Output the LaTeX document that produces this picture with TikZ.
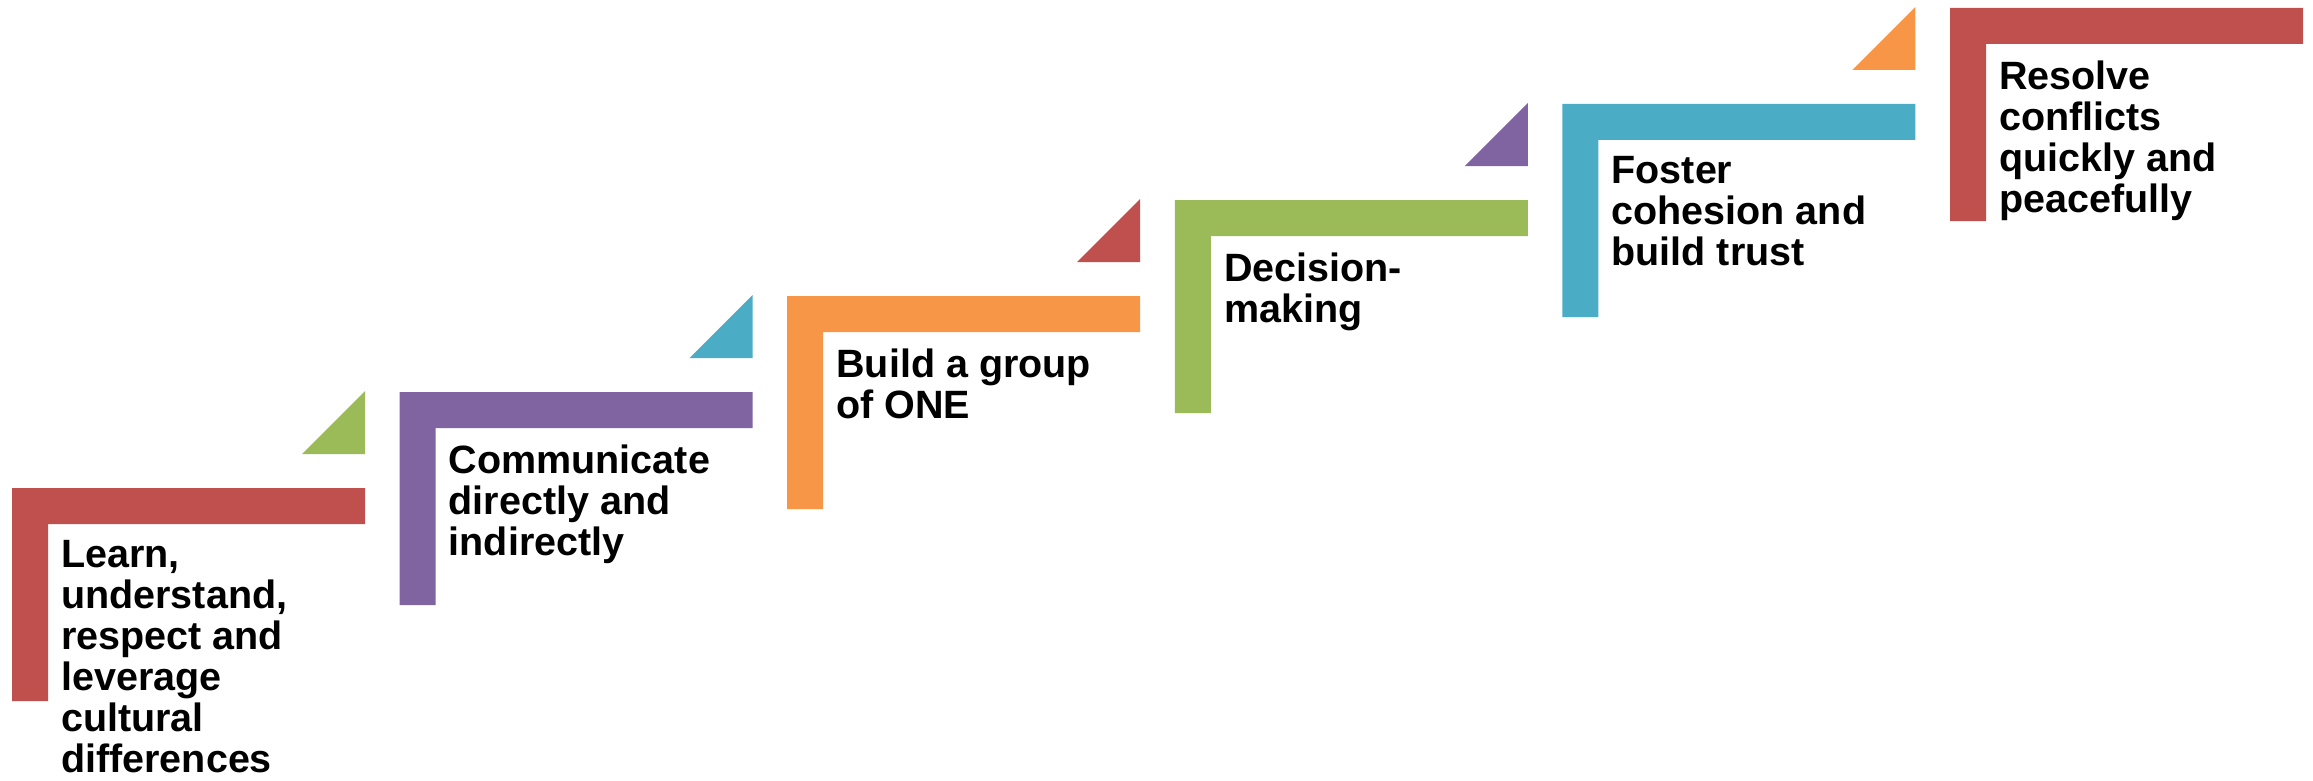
\documentclass[tikz,border=0pt]{standalone}
\usepackage{fontspec}
\setmainfont{Liberation Sans}
\definecolor{stepred}{HTML}{C0504D}
\definecolor{steppurple}{HTML}{8064A2}
\definecolor{steporange}{HTML}{F79646}
\definecolor{stepgreen}{HTML}{9BBB59}
\definecolor{stepblue}{HTML}{4BACC6}

\begin{document}
\begin{tikzpicture}[x=1pt,y=-1pt,
                    step text/.style={anchor=north west,inner sep=0pt,align=left,
                                      font=\fontsize{39.5}{41}\selectfont\bfseries}]
  \useasboundingbox (0,0) rectangle (2313,781);

  \begin{scope}[shift={(12,488)}]
    \fill[stepred] (0,0) rectangle (353,36) (0,0) rectangle (36,213);
    \fill[stepgreen] (353,-34) -- (353,-97) -- (290,-34) -- cycle;
    \node[step text] (1) at (49,52.5) {Learn,\\understand,\\respect and\\leverage\\cultural\\differences};
  \end{scope}

  \begin{scope}[shift={(399.6,392)}]
    \fill[steppurple] (0,0) rectangle (353,36) (0,0) rectangle (36,213);
    \fill[stepblue] (353,-34) -- (353,-97) -- (290,-34) -- cycle;
    \node[step text] (2) at (49,52.5) {Communicate\\directly and\\indirectly};
  \end{scope}

  \begin{scope}[shift={(787.2,296)}]
    \fill[steporange] (0,0) rectangle (353,36) (0,0) rectangle (36,213);
    \fill[stepred] (353,-34) -- (353,-97) -- (290,-34) -- cycle;
    \node[step text] (3) at (49,52.5) {Build a group\\of ONE};
  \end{scope}

  \begin{scope}[shift={(1174.8,200)}]
    \fill[stepgreen] (0,0) rectangle (353,36) (0,0) rectangle (36,213);
    \fill[steppurple] (353,-34) -- (353,-97) -- (290,-34) -- cycle;
    \node[step text] (4) at (49,52.5) {Decision-\\making};
  \end{scope}

  \begin{scope}[shift={(1562.4,104)}]
    \fill[stepblue] (0,0) rectangle (353,36) (0,0) rectangle (36,213);
    \fill[steporange] (353,-34) -- (353,-97) -- (290,-34) -- cycle;
    \node[step text] (5) at (49,52.5) {Foster\\cohesion and\\build trust};
  \end{scope}

  \begin{scope}[shift={(1950,8)}]
    \fill[stepred] (0,0) rectangle (353,36) (0,0) rectangle (36,213);
    \node[step text] (6) at (49,52.5) {Resolve\\conflicts\\quickly and\\peacefully};
  \end{scope}
\end{tikzpicture}
\end{document}
